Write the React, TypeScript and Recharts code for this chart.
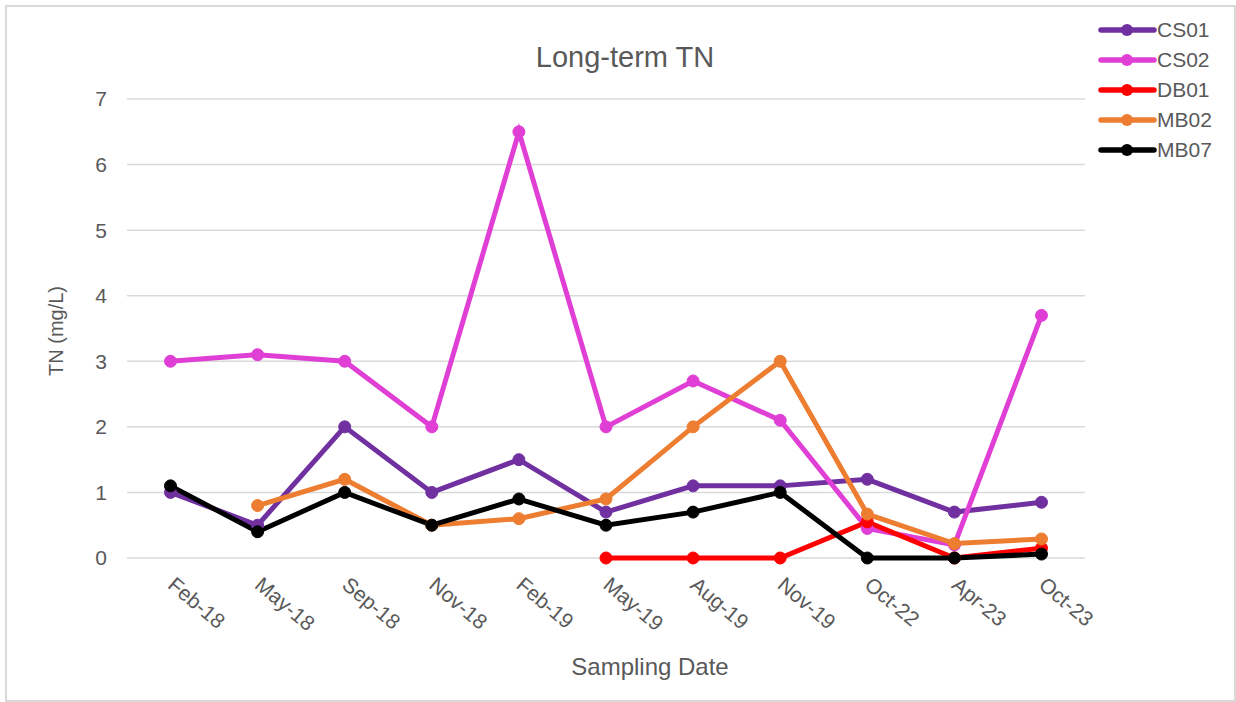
import React from 'react';
import { LineChart, Line, XAxis, YAxis, CartesianGrid, Legend, Customized } from 'recharts';

const categories = ['Feb-18', 'May-18', 'Sep-18', 'Nov-18', 'Feb-19', 'May-19', 'Aug-19', 'Nov-19', 'Oct-22', 'Apr-23', 'Oct-23'];
const cs01 = [1.0, 0.5, 2.0, 1.0, 1.5, 0.7, 1.1, 1.1, 1.2, 0.7, 0.85];
const cs02 = [3.0, 3.1, 3.0, 2.0, 6.5, 2.0, 2.7, 2.1, 0.45, 0.2, 3.7];
const db01 = [null, null, null, null, null, 0, 0, 0, 0.55, 0, 0.15];
const mb02 = [null, 0.8, 1.2, 0.5, 0.6, 0.9, 2.0, 3.0, 0.67, 0.22, 0.29];
const mb07 = [1.1, 0.4, 1.0, 0.5, 0.9, 0.5, 0.7, 1.0, 0, 0, 0.06];
const yTicks = [0, 1, 2, 3, 4, 5, 6, 7];
const boundaryTicks = [0, 1, 2, 3, 4, 5, 6, 7, 8, 9, 10, 11];

const seriesNames = ['CS01', 'CS02', 'DB01', 'MB02', 'MB07'];
const seriesColors = ['#7030A0', '#E03FD5', '#FF0000', '#ED7D31', '#000000'];
const seriesValues = [cs01, cs02, db01, mb02, mb07];

const data = categories.map((c, i) => {
  const row: any = { date: c, pos: i + 0.5 };
  seriesNames.forEach((n, k) => {
    row[n] = seriesValues[k][i];
  });
  return row;
});

const FONT = "'Liberation Sans', Arial, Helvetica, sans-serif";
const TXT = '#595959';
const GRID = '#d9d9d9';

function AngledTick(props: any) {
  const { x, y, payload } = props;
  return (
    <g transform={`translate(${x - 4},${y + 21})`}>
      <text transform="rotate(40)" textAnchor="start" fill={TXT} fontSize={21} fontFamily={FONT}>
        {payload.value}
      </text>
    </g>
  );
}

function BoundaryTick(props: any) {
  const { x, y } = props;
  return <line x1={x} x2={x} y1={y - 14} y2={y - 8} stroke={GRID} strokeWidth={1.5} />;
}

function LegendContent() {
  return (
    <div style={{ fontFamily: FONT, color: TXT, fontSize: 21 }}>
      {seriesNames.map((n, k) => (
        <div key={n} style={{ display: 'flex', alignItems: 'center', height: 30 }}>
          <svg width={59} height={30} style={{ display: 'block' }}>
            <line x1={3} y1={15} x2={56} y2={15} stroke={seriesColors[k]} strokeWidth={5.5} strokeLinecap="round" />
            <circle cx={29} cy={15} r={6} fill={seriesColors[k]} />
          </svg>
          <span style={{ lineHeight: '30px' }}>{n}</span>
        </div>
      ))}
    </div>
  );
}

function Titles() {
  return (
    <g fontFamily={FONT} fill={TXT}>
      <text x={625} y={67} textAnchor="middle" fontSize={29}>Long-term TN</text>
      <text x={650} y={675} textAnchor="middle" fontSize={24}>Sampling Date</text>
      <text transform="translate(63,331) rotate(-90)" textAnchor="middle" fontSize={20}>TN  (mg/L)</text>
    </g>
  );
}

export default function App() {
  return (
    <div style={{ position: 'absolute', left: 0, top: 0, width: 1236, height: 702, background: '#fff' }}>
      <div
        style={{
          position: 'absolute',
          left: 5,
          top: 5,
          width: 1231,
          height: 697,
          border: `2px solid ${GRID}`,
          boxSizing: 'border-box',
          pointerEvents: 'none',
        }}
      />
      <LineChart
        width={1236}
        height={702}
        data={data}
        margin={{ top: 99, right: 151, bottom: 44, left: 0 }}
      >
        <CartesianGrid vertical={false} stroke={GRID} strokeWidth={1.5} />
        <XAxis
          xAxisId="main"
          dataKey="date"
          height={100}
          interval={0}
          padding={{ left: 43.5, right: 43.5 }}
          axisLine={false}
          tickLine={false}
          tick={<AngledTick />}
        />
        <XAxis
          xAxisId="bounds"
          dataKey="pos"
          type="number"
          domain={[0, 11]}
          ticks={boundaryTicks}
          interval={0}
          height={0}
          axisLine={false}
          tickLine={false}
          tick={<BoundaryTick />}
        />
        <YAxis
          domain={[0, 7]}
          ticks={yTicks}
          width={127}
          axisLine={false}
          tickLine={false}
          tickMargin={14}
          tick={{ fill: TXT, fontSize: 21, fontFamily: FONT }}
        />
        <Legend
          layout="vertical"
          align="center"
          verticalAlign="middle"
          wrapperStyle={{ left: 1098, top: 15, width: 136 }}
          content={<LegendContent />}
        />
        {seriesNames.map((n, k) => (
          <Line
            key={n}
            xAxisId="main"
            dataKey={n}
            stroke={seriesColors[k]}
            strokeWidth={5}
            dot={{ r: 6, fill: seriesColors[k], stroke: seriesColors[k], strokeWidth: 1 }}
            activeDot={false}
            isAnimationActive={false}
            connectNulls={false}
          />
        ))}
        <Customized component={Titles} />
      </LineChart>
    </div>
  );
}
